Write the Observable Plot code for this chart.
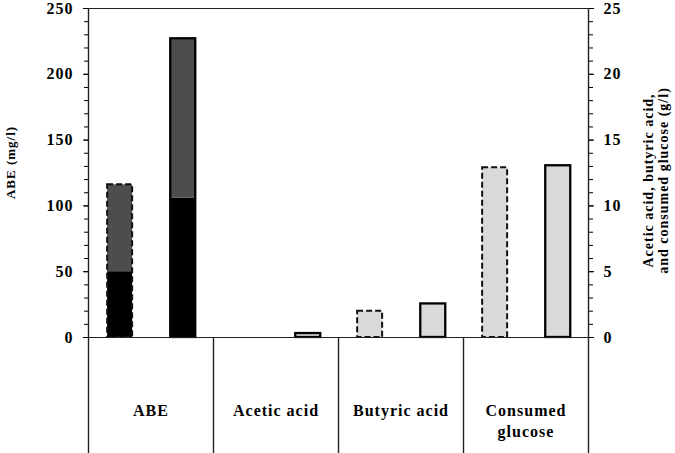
<!DOCTYPE html>
<html><head><meta charset="utf-8">
<script src="https://cdn.jsdelivr.net/npm/d3@7"></script>
<script src="https://cdn.jsdelivr.net/npm/@observablehq/plot@0.6"></script>
<style>body{margin:0;background:#fff}</style>
</head><body><div id="chart"></div>
<script>
// ---- data ----
const categories = ["ABE", "Acetic acid", "Butyric acid", "Consumed\nglucose"];
const runs = ["run1", "run2"]; // run1 = dashed outline, run2 = solid outline
// ABE (mg/l): lower black segment and total bar height for each run
const abeLower = [50, 106];
const abeTotal = [116, 227];
// g/l values (right axis) for Acetic acid, Butyric acid, Consumed glucose
const acidsRun1 = [0, 2.0, 12.9];
const acidsRun2 = [0.3, 2.55, 13.05];
const leftTicks = [0, 50, 100, 150, 200, 250];
const rightTicks = [0, 5, 10, 15, 20, 25];
const minorTicks = d3.range(0, 251, 10);
const leftTitle = "ABE (mg/l)";
const rightTitle = "Acetic acid, butyric acid,\nand consumed glucose (g/l)";

// ---- build tables ----
const gToAxis = 10; // 25 g/l on right axis <-> 250 mg/l on left axis
const offsets = [0.253, 0.758], half = 0.1;
const fills = [], outlines = [];
abeTotal.forEach((t, s) => {
  fills.push({cat: 0, s, y1: 0, y2: abeLower[s], fill: "#000000"});
  fills.push({cat: 0, s, y1: abeLower[s], y2: t, fill: "#4d4d4d"});
  outlines.push({cat: 0, s, y2: t});
});
[acidsRun1, acidsRun2].forEach((arr, s) => arr.forEach((v, k) => {
  if (v > 0) {
    fills.push({cat: k + 1, s, y1: 0, y2: v * gToAxis, fill: "#d9d9d9"});
    outlines.push({cat: k + 1, s, y2: v * gToAxis});
  }
}));
const bx1 = d => d.cat + offsets[d.s] - half;
const bx2 = d => d.cat + offsets[d.s] + half;

const chart = Plot.plot({
  width: 675, height: 453,
  marginLeft: 88, marginRight: 87, marginTop: 8, marginBottom: 116,
  style: {fontFamily: "'Liberation Serif', serif", fontWeight: "bold", letterSpacing: "1px", color: "#000", background: "#fff"},
  x: {domain: [0, 4], axis: null},
  y: {domain: [0, 250], axis: null},
  color: {type: "identity"},
  marks: [
    Plot.rectY(fills, {x1: bx1, x2: bx2, y1: "y1", y2: "y2", fill: "fill"}),
    Plot.rectY(outlines.filter(d => d.s === 0), {x1: bx1, x2: bx2, y1: 0, y2: "y2", fill: "none", stroke: "#111", strokeWidth: 2, strokeDasharray: "6,3"}),
    Plot.rectY(outlines.filter(d => d.s === 1), {x1: bx1, x2: bx2, y1: 0, y2: "y2", fill: "none", stroke: "#000", strokeWidth: 2.3}),
    // frame: top line, baseline, side axes extending into category box, dividers
    Plot.ruleY([250], {stroke: "#222", strokeWidth: 1.2}),
    Plot.ruleY([0], {stroke: "#222", strokeWidth: 1.2}),
    Plot.ruleX([0, 4], {stroke: "#222", strokeWidth: 1.4, insetBottom: -116}),
    Plot.ruleX([1, 2, 3], {y1: 0, y2: 0, stroke: "#222", strokeWidth: 1.4, insetBottom: -116}),
    // axes
    Plot.axisY({anchor: "left", ticks: minorTicks, tickSize: 4, tickFormat: () => "", label: null}),
    Plot.axisY({anchor: "left", ticks: leftTicks, tickSize: 5, tickPadding: 10, fontSize: 16, label: null}),
    Plot.axisY({anchor: "right", ticks: minorTicks, tickSize: 4, tickFormat: () => "", label: null}),
    Plot.axisY({anchor: "right", ticks: rightTicks.map(v => v * gToAxis), tickSize: 5, tickPadding: 10, fontSize: 16, tickFormat: d => d / gToAxis, label: null}),
    // category labels
    Plot.text(categories, {x: (d, i) => i + 0.5, frameAnchor: "bottom", dy: 63, lineAnchor: "top", lineHeight: 1.35, fontSize: 16, fill: "#000"}),
    // axis titles
    Plot.text([leftTitle], {frameAnchor: "left", textAnchor: "middle", rotate: -90, dx: -78, dy: -10.5, fontSize: 13, fill: "#000", ariaLabel: "left-title"}),
    Plot.text([rightTitle], {frameAnchor: "right", textAnchor: "middle", rotate: -90, dx: 67, dy: 7.5, lineAnchor: "middle", lineHeight: 1.08, fontSize: 14, fill: "#000"})
  ]
});
d3.select(chart).selectAll('g[aria-label="left-title"] text').style("letter-spacing", "0px");
document.getElementById("chart").appendChild(chart);
</script>
</body></html>
